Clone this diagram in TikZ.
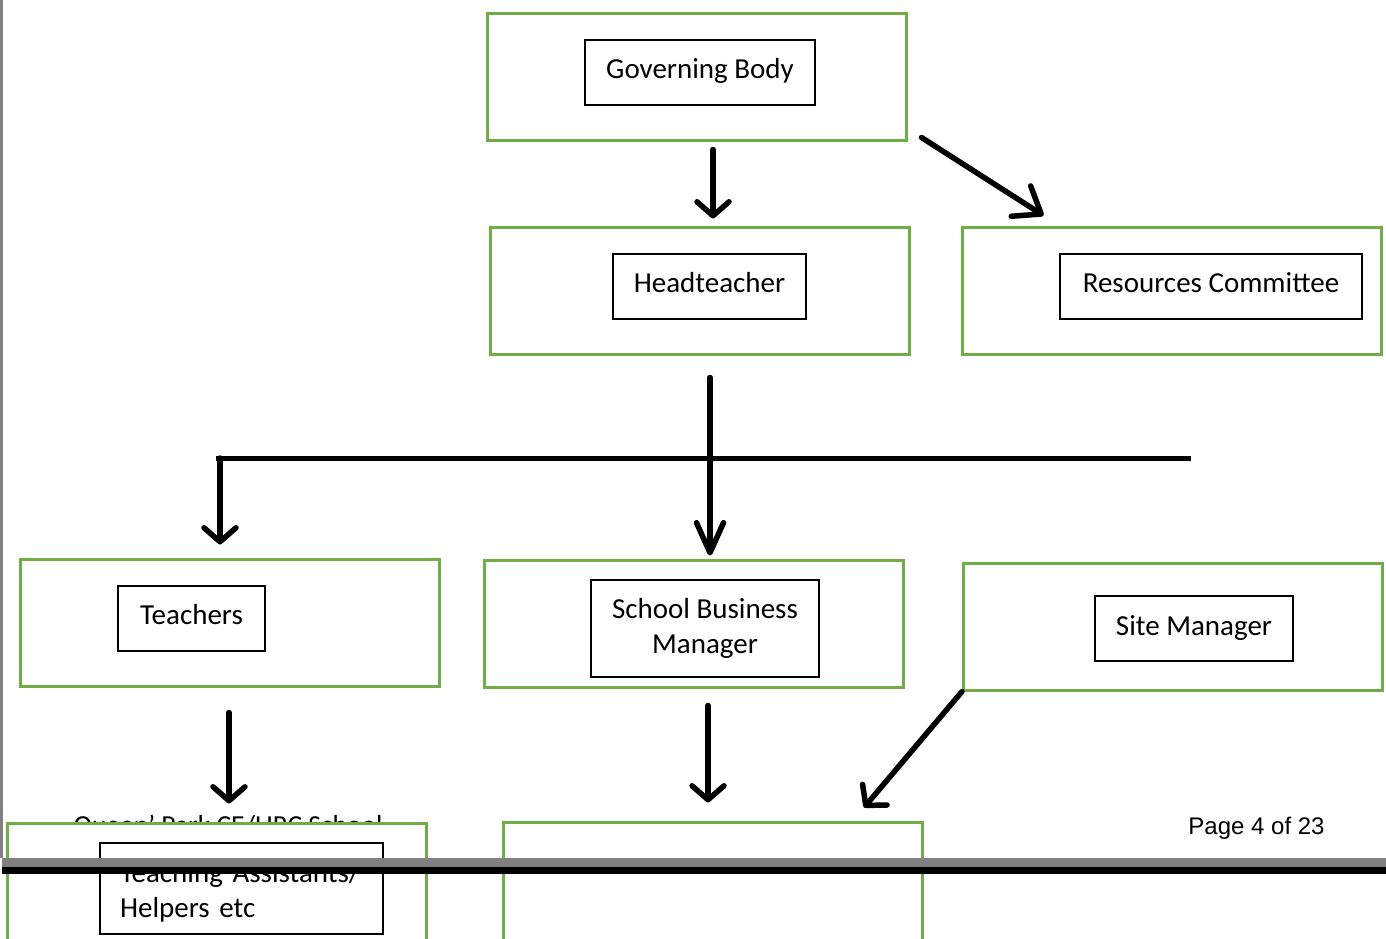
\documentclass[tikz,border=0pt]{standalone}
\usepackage{fontspec}
\setmainfont{Carlito}
\newfontfamily\arialf{Liberation Sans}
\usetikzlibrary{arrows.meta,calc}
\definecolor{boxgreen}{HTML}{70AD47}
\definecolor{bandgray}{HTML}{808080}
\begin{document}
\begin{tikzpicture}[x=1pt,y=-1pt,
  greenbox/.style={draw=boxgreen, line width=3pt, fill=white, minimum width=419pt, minimum height=127pt, inner sep=0pt},
  innerbox/.style={draw=black, line width=1.1pt, fill=white, inner sep=0pt, align=center, font=\fontsize{29}{35.5}\selectfont},
  oneline/.style={text height=17pt, text depth=5pt},
  arr/.style={line width=5.5pt, line cap=round, -{Straight Barb[length=14pt,width=32pt,round]}},
  bigarr/.style={line width=5.5pt, line cap=round, -{Straight Barb[length=24pt,width=36pt,round]}},
  longarr/.style={line width=5.5pt, line cap=round, -{Straight Barb[length=30pt,width=27pt,round]}},
  bar/.style={line width=5pt}
]
\clip (0,0) rectangle (1386,938);
\fill[white] (0,0) rectangle (1386,938);
% left page edge
\fill[bandgray] (0,0) rectangle (3,858);

% top row
\node[greenbox] (gbo) at (696.5,76.5) {};
\node[innerbox, oneline, minimum width=230pt, minimum height=65pt] (gbi) at (700,72.5) {Governing Body};

\node[greenbox] (hto) at (699.5,290.5) {};
\node[innerbox, oneline, minimum width=193pt, minimum height=65pt] (hti) at (709.5,286.5) {Headteacher};

\node[greenbox] (rco) at (1171.5,290.5) {};
\node[innerbox, oneline, minimum width=302pt, minimum height=65pt] (rci) at (1211,286.5) {Resources Committee};

% middle row
\node[greenbox] (tco) at (230,622.5) {};
\node[innerbox, oneline, minimum width=147pt, minimum height=65pt] (tci) at (191.5,618.5) {Teachers};

\node[greenbox] (sbo) at (693.5,623.5) {};
\node[innerbox, minimum width=228pt, minimum height=97pt] (sbi) at (705,628.5) {School Business\\Manager};

\node[greenbox] (smo) at (1173,626.5) {};
\node[innerbox, minimum width=198pt, minimum height=65pt] (smi) at (1194,628.5) {Site Manager};

% bar
\coordinate (barL) at (216,458);
\coordinate (barR) at (1191,458);
\draw[bar] (barL) -- (barR);

% connectors
\draw[arr, shorten <=8pt, shorten >=7pt] (gbo.south -| 713,0) -- (hto.north -| 713,0);
\draw[bigarr] ($(gbo.south east)+(14,-4)$) -- ($(rco.north west)+(83,-10)$);
\draw[longarr, shorten <=22pt, shorten >=3pt] (hto.south -| 710,0) -- (sbo.north -| 710,0);
\draw[arr, shorten >=13pt] (barL -| 220,0) -- (tco.north -| 220,0);

% bottom header text (partly hidden by the next box)
\node[font=\fontsize{27.5}{33}\selectfont, anchor=base] (hdr) at (228,834) {Queen' Park CE/URC School};
\node[font=\arialf\fontsize{24}{29}\selectfont, anchor=base] (pg) at (1256.5,834) {Page 4 of 23};

% bottom row
\node[greenbox] (tao) at (216.5,886.5) {};
\node[innerbox, minimum width=283pt, minimum height=91pt, text width=243pt, inner xsep=20pt, align=left, text height=8pt, text depth=21pt] (tai) at (241.5,888.5) {Teaching Assistants/\\Helpers etc};

\node[greenbox] (bmo) at (713,885.5) {};

\draw[arr, shorten <=25pt, shorten >=18pt] (tco.south -| 229,0) -- (tao.north -| 229,0);
\draw[arr, shorten <=17pt, shorten >=18pt] (sbo.south -| 708,0) -- (bmo.north -| 708,0);
\draw[arr] (smo.south west) -- ($(bmo.north east)+(-60,-13)$);

% page break bands
\fill[bandgray] (2,858) rectangle (1386,867);
\fill[black] (2,867) rectangle (1386,874);
\end{tikzpicture}
\end{document}
